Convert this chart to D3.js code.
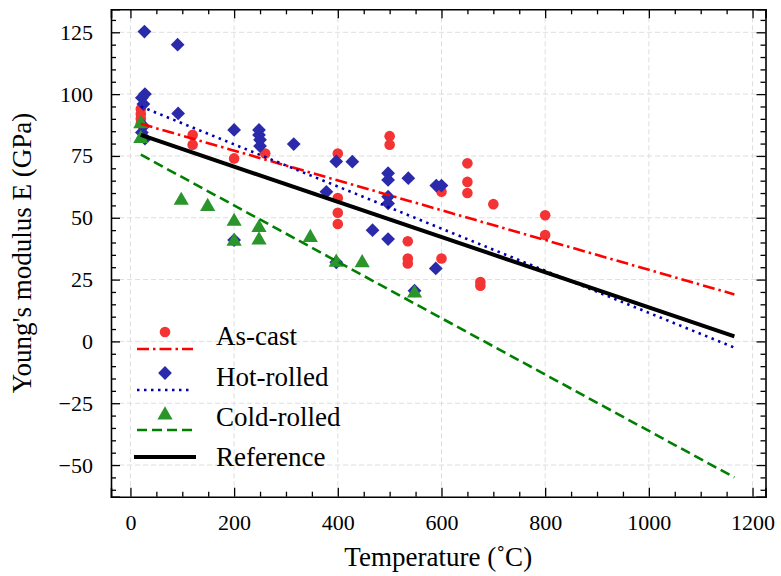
<!DOCTYPE html>
<html>
<head>
<meta charset="utf-8">
<script src="https://cdn.jsdelivr.net/npm/d3@7"></script>
<style>
  body { margin: 0; background: #fff; }
  svg text { font-family: "Liberation Serif", "Times New Roman", Times, serif !important; }
</style>
</head>
<body>
<div id="chart"></div>
<script>
// Measured points (temperature in C, modulus in GPa)
const asCastT = [20, 20, 20, 20, 120, 120, 200, 260, 400, 400, 400, 400, 500, 500, 535, 535, 535, 600, 600, 650, 650, 650, 675, 675, 700, 800, 800];
const asCastE = [94, 92, 90, 88, 83.5, 79.5, 74, 76, 76, 58, 52, 47.5, 83, 79.5, 40.5, 33.5, 31.5, 60.5, 33.5, 72, 64.5, 60, 24, 22.5, 55.5, 51, 43];

const hotT = [27, 91, 22, 28, 25, 25, 22, 28, 92, 200, 248, 248, 250, 250, 315, 397, 428, 200, 397, 378, 497, 497, 536, 497, 497, 467, 497, 589, 590, 600, 548];
const hotE = [125.3, 120, 98.5, 100, 96, 87, 84.5, 82, 92.2, 85.5, 85.5, 83.5, 81.5, 79, 79.8, 72.8, 72.7, 41, 32, 60.5, 68, 65.3, 66, 58.5, 55.8, 45, 41.4, 29.5, 63, 63, 20.5];

const coldT = [20, 20, 98, 149, 200, 200, 248, 248, 347, 397, 447, 548];
const coldE = [88, 82, 57, 54.5, 48.5, 40.5, 46, 41, 42, 32, 31.8, 19.5];

// Fitted lines: start and end of each (x, y)
const fitX = [20, 1165];
const asCastFit = [88, 19];
const hotFit = [95, -2.5];
const coldFit = [75.5, -55];
const refFit = [83.5, 2];

const xTicks = [0, 200, 400, 600, 800, 1000, 1200];
const yTicks = [-50, -25, 0, 25, 50, 75, 100, 125];

const W = 781, H = 576;
const pL = 111, pR = 765.5, pT = 9.3, pB = 496.7;
const serif = "'Liberation Serif', 'Times New Roman', Times, serif";

const svg = d3.select("#chart").append("svg")
  .attr("width", W).attr("height", H)
  .attr("font-family", serif);

const x = d3.scaleLinear().domain([-37.5, 1225]).range([pL, pR]);
const y = d3.scaleLinear().domain([-62.8, 134.3]).range([pB, pT]);

const tickFont = 22;
const labelFont = 27;

// grid
const grid = svg.append("g").attr("stroke", "#dedede").attr("stroke-width", 1)
  .attr("stroke-dasharray", "5,3");
grid.selectAll(".gx").data(xTicks).enter().append("line")
  .attr("x1", d => x(d)).attr("x2", d => x(d)).attr("y1", pT).attr("y2", pB);
grid.selectAll(".gy").data(yTicks).enter().append("line")
  .attr("y1", d => y(d)).attr("y2", d => y(d)).attr("x1", pL).attr("x2", pR);

// axes with inward ticks
const xMinor = d3.range(0, 1201, 50).filter(v => v % 200 !== 0);
const yMinor = d3.range(-60, 131, 5).filter(v => v % 25 !== 0);
const minus = d => d < 0 ? "\u2212" + Math.abs(d) : String(d);

function drawAxis(axisFn, scale, pos, major, minor, labels) {
  const g = svg.append("g").attr("transform", pos);
  g.call(axisFn(scale).tickValues(major).tickSize(-9).tickPadding(labels ? 18 : 0)
    .tickFormat(labels ? minus : ""));
  const m = svg.append("g").attr("transform", pos);
  m.call(axisFn(scale).tickValues(minor).tickSize(-5).tickFormat(""));
  m.select(".domain").remove();
  [g, m].forEach(s => s.selectAll("line, path").attr("stroke", "#000").attr("stroke-width", 1.3));
  g.select(".domain").attr("stroke-width", 1.6);
  g.attr("font-family", serif);
  g.selectAll("text").attr("font-size", tickFont).attr("fill", "#000")
    .style("font-family", serif);
  return g;
}
drawAxis(d3.axisBottom, x, `translate(0,${pB})`, xTicks, xMinor, true);
drawAxis(d3.axisTop, x, `translate(0,${pT})`, xTicks, xMinor, false);
drawAxis(d3.axisLeft, y, `translate(${pL},0)`, yTicks, yMinor, true);
drawAxis(d3.axisRight, y, `translate(${pR},0)`, yTicks, yMinor, false);

// plotting area clip
svg.append("clipPath").attr("id", "clip").append("rect")
  .attr("x", pL).attr("y", pT).attr("width", pR - pL).attr("height", pB - pT);
const plot = svg.append("g").attr("clip-path", "url(#clip)");

const red = "#f43434", blue = "#2a2aaa", green = "#2a952a";
const symDiamond = d3.symbol().type(d3.symbolSquare).size(95);
const symTri = d3.symbol().type(d3.symbolTriangle).size(100);

// fit lines
const fits = [
  { v: asCastFit, color: "#ff0000", dash: "12,4,2.5,4", w: 2.6 },
  { v: hotFit, color: "#0000b0", dash: "2.5,4.5", w: 2.6 },
  { v: coldFit, color: "#008000", dash: "10,5", w: 2.6 },
  { v: refFit, color: "#000", dash: null, w: 4 }
];

// points
plot.selectAll(".ac").data(asCastT).enter().append("circle")
  .attr("cx", d => x(d)).attr("cy", (d, i) => y(asCastE[i])).attr("r", 5.3)
  .attr("fill", red);
plot.selectAll(".hr").data(hotT).enter().append("path")
  .attr("d", symDiamond)
  .attr("transform", (d, i) => `translate(${x(d)},${y(hotE[i])}) rotate(45)`)
  .attr("fill", blue);
plot.selectAll(".cr").data(coldT).enter().append("path")
  .attr("d", symTri)
  .attr("transform", (d, i) => `translate(${x(d)},${y(coldE[i])})`)
  .attr("fill", green);

const line = d3.line().x(d => x(d[0])).y(d => y(d[1]));
fits.forEach(f => {
  plot.append("path")
    .attr("d", line(fitX.map((t, i) => [t, f.v[i]])))
    .attr("fill", "none").attr("stroke", f.color).attr("stroke-width", f.w)
    .attr("stroke-dasharray", f.dash);
});

// legend
const legendNames = ["As-cast", "Hot-rolled", "Cold-rolled", "Reference"];
const legendY = [336, 377, 417, 457];
const lg = svg.append("g");
legendNames.forEach((name, i) => {
  const cy = legendY[i];
  const f = fits[i];
  if (i < 3) {
    lg.append("line").attr("x1", 137).attr("x2", 193).attr("y1", cy + 13).attr("y2", cy + 13)
      .attr("stroke", f.color).attr("stroke-width", f.w).attr("stroke-dasharray", f.dash);
  } else {
    lg.append("line").attr("x1", 134).attr("x2", 196).attr("y1", cy).attr("y2", cy)
      .attr("stroke", "#000").attr("stroke-width", 4);
  }
  if (i === 0) lg.append("circle").attr("cx", 165).attr("cy", cy - 4).attr("r", 5.3).attr("fill", red);
  if (i === 1) lg.append("path").attr("d", symDiamond).attr("fill", blue)
    .attr("transform", `translate(165,${cy - 4}) rotate(45)`);
  if (i === 2) lg.append("path").attr("d", symTri).attr("fill", green)
    .attr("transform", `translate(165,${cy - 2})`);
  lg.append("text").attr("x", 216).attr("y", cy).attr("dy", "0.35em")
    .attr("font-size", labelFont).style("font-family", serif).text(name);
});

// axis titles
svg.append("text").attr("x", (pL + pR) / 2).attr("y", 566)
  .attr("text-anchor", "middle").attr("font-size", labelFont).style("font-family", serif)
  .text("Temperature (\u02DAC)");
svg.append("text").attr("transform", `translate(31,${(pT + pB) / 2}) rotate(-90)`)
  .attr("text-anchor", "middle").attr("font-size", labelFont).style("font-family", serif)
  .text("Young's modulus E (GPa)");
</script>
</body>
</html>
